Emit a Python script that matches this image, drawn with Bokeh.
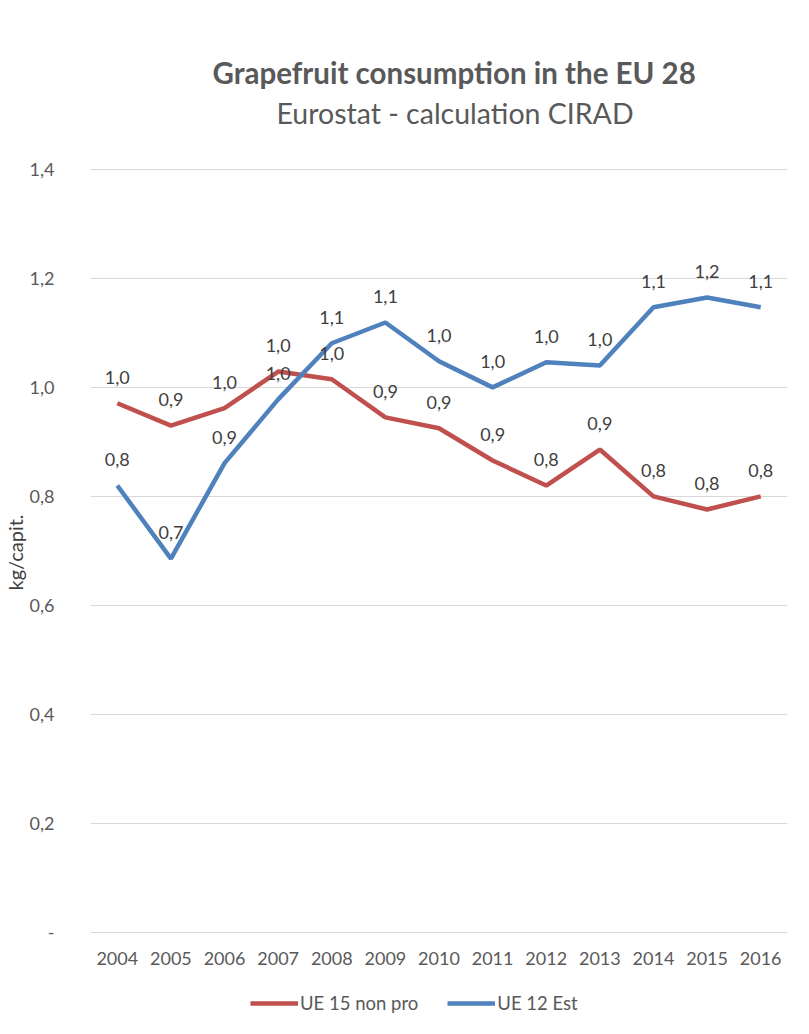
from bokeh.plotting import figure
from bokeh.models import (ColumnDataSource, FixedTicker, CustomJSTickFormatter, Legend,
                          LegendItem, Title, Range1d, FactorRange)
from bokeh.core.properties import value
from bokeh.embed import file_html
from bokeh.resources import INLINE

years = ["2004", "2005", "2006", "2007", "2008", "2009", "2010",
         "2011", "2012", "2013", "2014", "2015", "2016"]
ue15 = [0.971, 0.930, 0.962, 1.029, 1.015, 0.945, 0.925,
        0.866, 0.820, 0.886, 0.800, 0.776, 0.800]
ue12 = [0.820, 0.686, 0.861, 0.978, 1.081, 1.119, 1.048,
        1.000, 1.046, 1.040, 1.147, 1.165, 1.147]
y_ticks = [0, 0.2, 0.4, 0.6, 0.8, 1.0, 1.2, 1.4]

RED = "#C0504D"
BLUE = "#4F81BD"
GRAY = "#595959"
FONT = "Lato"


def fmt(v):
    return ("%.1f" % v).replace(".", ",")


src15 = ColumnDataSource(dict(x=years, y=ue15, t=[fmt(v) for v in ue15]))
src12 = ColumnDataSource(dict(x=years, y=ue12, t=[fmt(v) for v in ue12]))

p = figure(width=793, height=1018, x_range=FactorRange(*years), title=None,
           y_range=Range1d(-0.1576, 1.4015), output_backend="svg",
           toolbar_location=None, min_border_left=82, min_border_right=6,
           min_border_top=168, min_border_bottom=0)
p.outline_line_color = None
p.background_fill_color = "white"
p.border_fill_color = "white"

p.xgrid.grid_line_color = None
p.ygrid.grid_line_color = "#D9D9D9"
p.ygrid.grid_line_width = 1

p.yaxis.ticker = FixedTicker(ticks=y_ticks)
p.yaxis.formatter = CustomJSTickFormatter(
    code="return tick < 1e-9 ? '-' : tick.toFixed(1).replace('.', ',');")
p.yaxis.axis_line_color = None
p.yaxis.major_tick_line_color = None
p.yaxis.minor_tick_line_color = None
p.yaxis.major_label_standoff = 30
p.yaxis.major_label_text_font = FONT
p.yaxis.major_label_text_font_size = "18px"
p.yaxis.major_label_text_color = GRAY

p.xaxis.fixed_location = 0
p.xaxis.axis_line_color = None
p.xaxis.major_tick_line_color = None
p.xaxis.minor_tick_line_color = None
p.xaxis.major_label_standoff = 13
p.xaxis.major_label_text_font = FONT
p.xaxis.major_label_text_font_size = "18px"
p.xaxis.major_label_text_color = GRAY

r15 = p.line("x", "y", source=src15, line_color=RED, line_width=4.5)
r12 = p.line("x", "y", source=src12, line_color=BLUE, line_width=4.5)

for s in (src15, src12):
    p.text("x", "y", text="t", source=s, y_offset=-26, text_align="center",
           text_baseline="middle", text_font=value(FONT), text_font_size="18px",
           text_color="#404040")

legend = Legend(items=[LegendItem(label="UE 15 non pro", renderers=[r15]),
                       LegendItem(label="UE 12 Est", renderers=[r12])],
                orientation="horizontal", location=(160, 4),
                glyph_width=48, glyph_height=10, label_standoff=2, spacing=29,
                label_text_font=FONT, label_text_font_size="18.5px",
                label_text_color=GRAY, border_line_color=None,
                background_fill_alpha=0, padding=0, margin=0)
p.add_layout(legend, "center")

# y axis title
p.add_layout(Title(text="kg/capit.", align="left", offset=428, vertical_align="bottom",
                   text_font=FONT, text_font_size="20px", text_font_style="normal",
                   text_color="#404040", standoff=0), "left")

# titles (stacked outward from the frame)
p.add_layout(Title(text=" ", text_font_size="1px", standoff=34), "above")
p.add_layout(Title(text="Eurostat - calculation CIRAD", align="left", offset=186,
                   text_font=FONT, text_font_size="28.5px", text_font_style="normal",
                   text_color=GRAY, standoff=4), "above")
p.add_layout(Title(text="Grapefruit consumption in the EU 28", align="left", offset=122,
                   text_font=FONT, text_font_size="29.5px", text_font_style="bold",
                   text_color=GRAY, standoff=4), "above")

open("out.html", "w").write(file_html(p, INLINE))
